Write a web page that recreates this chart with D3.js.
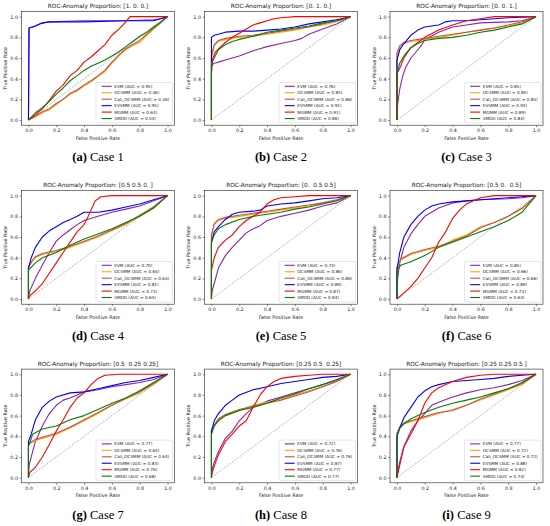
<!DOCTYPE html>
<html>
<head>
<meta charset="utf-8">
<script src="https://cdn.jsdelivr.net/npm/d3@7"></script>
<style>
  body { margin: 0; background: #fff; }
  svg { display: block; }
</style>
</head>
<body>
<svg id="chart" width="550" height="526"></svg>
<script>
// methods, in legend / draw order
const methods = ["EVM", "OCSMM", "Cali_OCSMM", "EVSMM", "MGMM", "SMDD"];
const titles = [
  "ROC-Anomaly Proportion: [1. 0. 0.]",
  "ROC-Anomaly Proportion: [0. 1. 0.]",
  "ROC-Anomaly Proportion: [0. 0. 1.]",
  "ROC-Anomaly Proportion: [0.5 0.5 0. ]",
  "ROC-Anomaly Proportion: [0.  0.5 0.5]",
  "ROC-Anomaly Proportion: [0.5 0.  0.5]",
  "ROC-Anomaly Proportion: [0.5  0.25 0.25]",
  "ROC-Anomaly Proportion: [0.25 0.5  0.25]",
  "ROC-Anomaly Proportion: [0.25 0.25 0.5 ]"
];
const captionTags = ["(a)", "(b)", "(c)", "(d)", "(e)", "(f)", "(g)", "(h)", "(i)"];
const captionText = ["Case 1", "Case 2", "Case 3", "Case 4", "Case 5", "Case 6", "Case 7", "Case 8", "Case 9"];
const aucs = [
  [0.95, 0.46, 0.46, 0.95, 0.64, 0.54],
  [0.76, 0.85, 0.86, 0.91, 0.91, 0.86],
  [0.85, 0.85, 0.85, 0.93, 0.89, 0.84],
  [0.70, 0.64, 0.64, 0.81, 0.73, 0.65],
  [0.73, 0.86, 0.86, 0.89, 0.87, 0.84],
  [0.85, 0.66, 0.66, 0.89, 0.73, 0.64],
  [0.77, 0.64, 0.64, 0.83, 0.76, 0.68],
  [0.72, 0.76, 0.76, 0.87, 0.77, 0.77],
  [0.77, 0.72, 0.72, 0.88, 0.82, 0.74]
];
const ticks = [0, 0.2, 0.4, 0.6, 0.8, 1.0];

// ROC points [fpr, tpr] per case, one list per method
const case1 = [
  [[0,0],[0.003,0.89],[0.03,0.90],[0.08,0.93],[0.15,0.95],[0.4,0.96],[0.7,0.96],[0.9,0.97],[0.95,0.98],[1,1]],
  [[0,0],[0.05,0.03],[0.1,0.07],[0.15,0.1],[0.2,0.15],[0.25,0.2],[0.3,0.25],[0.35,0.28],[0.4,0.33],[0.45,0.37],[0.5,0.42],[0.55,0.47],[0.6,0.55],[0.65,0.62],[0.7,0.68],[0.75,0.72],[0.8,0.75],[0.85,0.82],[0.9,0.88],[0.95,0.94],[1,1]],
  [[0,0],[0.05,0.04],[0.1,0.08],[0.15,0.11],[0.2,0.16],[0.25,0.2],[0.3,0.26],[0.35,0.29],[0.4,0.34],[0.45,0.38],[0.5,0.43],[0.55,0.48],[0.6,0.56],[0.65,0.63],[0.7,0.69],[0.75,0.73],[0.8,0.77],[0.85,0.83],[0.9,0.89],[0.95,0.94],[1,1]],
  [[0,0],[0.005,0.89],[0.05,0.91],[0.1,0.94],[0.15,0.95],[0.4,0.95],[0.7,0.96],[0.9,0.96],[0.95,0.98],[1,1]],
  [[0,0],[0.05,0.05],[0.1,0.11],[0.15,0.19],[0.2,0.28],[0.25,0.34],[0.3,0.43],[0.35,0.48],[0.4,0.56],[0.45,0.61],[0.5,0.67],[0.55,0.73],[0.6,0.82],[0.65,0.88],[0.7,0.95],[0.73,1],[1,1]],
  [[0,0],[0.05,0.07],[0.1,0.12],[0.15,0.18],[0.2,0.25],[0.25,0.31],[0.3,0.38],[0.35,0.43],[0.4,0.48],[0.45,0.52],[0.5,0.55],[0.55,0.58],[0.6,0.62],[0.65,0.66],[0.7,0.71],[0.75,0.76],[0.8,0.81],[0.85,0.85],[0.9,0.9],[0.95,0.95],[1,1]]
];
const case2 = [
  [[0,0],[0,0.53],[0.02,0.55],[0.05,0.56],[0.1,0.58],[0.2,0.62],[0.3,0.67],[0.4,0.71],[0.5,0.74],[0.6,0.77],[0.65,0.79],[0.7,0.83],[0.8,0.88],[0.9,0.93],[1,1]],
  [[0,0],[0,0.6],[0.02,0.72],[0.05,0.76],[0.1,0.78],[0.2,0.8],[0.3,0.81],[0.4,0.83],[0.5,0.85],[0.6,0.87],[0.7,0.9],[0.8,0.92],[0.9,0.95],[1,1]],
  [[0,0],[0,0.62],[0.02,0.73],[0.05,0.77],[0.1,0.79],[0.2,0.81],[0.3,0.82],[0.4,0.84],[0.5,0.86],[0.6,0.88],[0.7,0.9],[0.8,0.93],[0.9,0.96],[1,1]],
  [[0,0],[0,0.8],[0.02,0.82],[0.05,0.83],[0.1,0.85],[0.2,0.86],[0.3,0.86],[0.4,0.87],[0.5,0.88],[0.6,0.9],[0.7,0.93],[0.8,0.95],[0.9,0.97],[1,1]],
  [[0,0],[0,0.45],[0.01,0.6],[0.03,0.66],[0.06,0.7],[0.1,0.75],[0.15,0.8],[0.2,0.84],[0.25,0.88],[0.3,0.92],[0.35,0.94],[0.4,0.96],[0.45,0.98],[0.5,0.99],[0.6,1],[1,1]],
  [[0,0],[0,0.55],[0.02,0.6],[0.05,0.68],[0.1,0.73],[0.15,0.76],[0.2,0.78],[0.3,0.81],[0.4,0.85],[0.5,0.87],[0.6,0.89],[0.7,0.91],[0.8,0.94],[0.9,0.96],[1,1]]
];
const case3 = [
  [[0,0],[0.005,0.15],[0.02,0.3],[0.04,0.42],[0.06,0.5],[0.1,0.6],[0.15,0.68],[0.18,0.73],[0.2,0.78],[0.3,0.85],[0.4,0.9],[0.5,0.92],[0.6,0.94],[0.8,0.95],[0.9,0.96],[1,1]],
  [[0,0],[0,0.62],[0.02,0.7],[0.05,0.74],[0.1,0.76],[0.2,0.78],[0.3,0.8],[0.4,0.82],[0.5,0.85],[0.6,0.87],[0.7,0.89],[0.8,0.91],[0.9,0.94],[1,1]],
  [[0,0],[0,0.65],[0.02,0.72],[0.05,0.75],[0.1,0.77],[0.2,0.79],[0.3,0.81],[0.4,0.83],[0.5,0.85],[0.6,0.87],[0.7,0.89],[0.8,0.92],[0.9,0.95],[1,1]],
  [[0,0],[0,0.58],[0.02,0.68],[0.05,0.74],[0.1,0.82],[0.15,0.87],[0.2,0.9],[0.3,0.92],[0.35,0.95],[0.4,0.96],[0.5,0.96],[0.6,0.97],[0.7,0.98],[0.8,0.99],[1,1]],
  [[0,0],[0,0.45],[0.02,0.5],[0.05,0.6],[0.1,0.7],[0.15,0.75],[0.2,0.8],[0.3,0.87],[0.4,0.92],[0.5,0.96],[0.6,0.98],[0.7,1],[1,1]],
  [[0,0],[0,0.45],[0.02,0.55],[0.05,0.62],[0.1,0.7],[0.15,0.74],[0.2,0.77],[0.3,0.79],[0.4,0.8],[0.5,0.82],[0.6,0.85],[0.7,0.87],[0.8,0.9],[0.9,0.93],[1,1]]
];
const case4 = [
  [[0,0],[0.01,0.08],[0.05,0.2],[0.1,0.33],[0.15,0.45],[0.2,0.56],[0.25,0.62],[0.3,0.67],[0.35,0.72],[0.4,0.76],[0.5,0.8],[0.6,0.84],[0.7,0.87],[0.8,0.9],[0.9,0.95],[1,1]],
  [[0,0],[0,0.3],[0.03,0.37],[0.05,0.4],[0.1,0.43],[0.2,0.46],[0.3,0.5],[0.4,0.55],[0.5,0.6],[0.6,0.66],[0.7,0.72],[0.8,0.8],[0.9,0.88],[1,1]],
  [[0,0],[0,0.31],[0.03,0.38],[0.05,0.41],[0.1,0.44],[0.2,0.47],[0.3,0.51],[0.4,0.56],[0.5,0.61],[0.6,0.67],[0.7,0.73],[0.8,0.81],[0.9,0.89],[1,1]],
  [[0,0],[0,0.3],[0.02,0.4],[0.05,0.5],[0.1,0.6],[0.15,0.66],[0.2,0.7],[0.25,0.74],[0.3,0.77],[0.35,0.8],[0.4,0.84],[0.5,0.84],[0.6,0.86],[0.7,0.89],[0.8,0.92],[0.9,0.96],[1,1]],
  [[0,0],[0.01,0.03],[0.05,0.08],[0.1,0.15],[0.15,0.25],[0.2,0.35],[0.25,0.45],[0.3,0.55],[0.35,0.65],[0.4,0.72],[0.43,0.8],[0.45,0.86],[0.48,0.95],[0.52,0.99],[0.6,1],[1,1]],
  [[0,0],[0,0.28],[0.05,0.35],[0.1,0.4],[0.2,0.45],[0.3,0.52],[0.4,0.58],[0.5,0.63],[0.6,0.68],[0.7,0.74],[0.8,0.8],[0.9,0.88],[1,1]]
];
const case5 = [
  [[0,0],[0.005,0.08],[0.02,0.15],[0.05,0.3],[0.1,0.42],[0.15,0.5],[0.2,0.57],[0.25,0.64],[0.3,0.68],[0.35,0.71],[0.4,0.76],[0.5,0.8],[0.6,0.83],[0.7,0.86],[0.8,0.9],[0.9,0.93],[1,1]],
  [[0,0],[0,0.6],[0.02,0.72],[0.05,0.76],[0.1,0.78],[0.2,0.8],[0.3,0.82],[0.4,0.84],[0.5,0.86],[0.6,0.88],[0.7,0.9],[0.8,0.93],[0.9,0.95],[1,1]],
  [[0,0],[0,0.62],[0.02,0.73],[0.05,0.77],[0.1,0.79],[0.2,0.81],[0.3,0.83],[0.4,0.85],[0.5,0.87],[0.6,0.89],[0.7,0.91],[0.8,0.93],[0.9,0.96],[1,1]],
  [[0,0],[0,0.55],[0.02,0.65],[0.05,0.7],[0.1,0.77],[0.15,0.82],[0.2,0.84],[0.3,0.85],[0.35,0.86],[0.4,0.9],[0.5,0.92],[0.6,0.93],[0.7,0.95],[0.8,0.97],[0.9,0.98],[1,1]],
  [[0,0],[0,0.28],[0.02,0.4],[0.05,0.5],[0.1,0.57],[0.15,0.62],[0.2,0.7],[0.25,0.76],[0.3,0.8],[0.35,0.84],[0.4,0.92],[0.45,0.96],[0.5,0.98],[0.6,0.99],[0.7,1],[1,1]],
  [[0,0],[0,0.55],[0.02,0.62],[0.05,0.68],[0.1,0.72],[0.2,0.77],[0.3,0.8],[0.4,0.82],[0.5,0.84],[0.6,0.87],[0.7,0.89],[0.8,0.92],[0.9,0.95],[1,1]]
];
const case6 = [
  [[0,0],[0.005,0.2],[0.02,0.35],[0.05,0.5],[0.1,0.63],[0.15,0.72],[0.2,0.8],[0.3,0.88],[0.4,0.93],[0.5,0.95],[0.6,0.96],[0.8,0.97],[0.9,0.98],[1,1]],
  [[0,0],[0,0.3],[0.03,0.38],[0.1,0.43],[0.2,0.47],[0.3,0.5],[0.4,0.57],[0.5,0.62],[0.6,0.7],[0.7,0.74],[0.8,0.8],[0.9,0.87],[1,1]],
  [[0,0],[0,0.31],[0.03,0.39],[0.1,0.44],[0.2,0.48],[0.3,0.51],[0.4,0.56],[0.5,0.61],[0.6,0.69],[0.7,0.74],[0.8,0.8],[0.9,0.88],[1,1]],
  [[0,0],[0,0.28],[0.02,0.45],[0.05,0.6],[0.1,0.72],[0.15,0.8],[0.2,0.86],[0.25,0.9],[0.3,0.92],[0.4,0.94],[0.5,0.95],[0.6,0.96],[0.7,0.97],[0.8,0.98],[0.9,0.99],[1,1]],
  [[0,0],[0.05,0.06],[0.1,0.12],[0.15,0.2],[0.2,0.3],[0.25,0.4],[0.3,0.55],[0.35,0.65],[0.4,0.78],[0.45,0.86],[0.5,0.92],[0.55,0.95],[0.6,0.98],[0.7,1],[1,1]],
  [[0,0],[0,0.28],[0.03,0.33],[0.1,0.36],[0.2,0.42],[0.3,0.5],[0.4,0.55],[0.5,0.6],[0.6,0.65],[0.7,0.7],[0.8,0.76],[0.9,0.84],[1,1]]
];
const case7 = [
  [[0,0],[0.005,0.12],[0.02,0.2],[0.05,0.35],[0.1,0.5],[0.15,0.62],[0.2,0.7],[0.25,0.75],[0.3,0.77],[0.35,0.8],[0.4,0.83],[0.5,0.85],[0.6,0.88],[0.7,0.9],[0.8,0.92],[0.9,0.95],[1,1]],
  [[0,0],[0,0.32],[0.05,0.36],[0.1,0.38],[0.2,0.42],[0.3,0.48],[0.4,0.55],[0.5,0.62],[0.6,0.7],[0.7,0.76],[0.8,0.82],[0.9,0.9],[1,1]],
  [[0,0],[0,0.33],[0.05,0.37],[0.1,0.39],[0.2,0.43],[0.3,0.49],[0.4,0.56],[0.5,0.63],[0.6,0.7],[0.7,0.77],[0.8,0.83],[0.9,0.91],[1,1]],
  [[0,0],[0,0.35],[0.02,0.42],[0.05,0.56],[0.1,0.68],[0.15,0.74],[0.2,0.78],[0.3,0.82],[0.4,0.83],[0.5,0.86],[0.6,0.89],[0.7,0.92],[0.8,0.94],[0.9,0.97],[1,1]],
  [[0,0],[0.01,0.05],[0.05,0.1],[0.1,0.2],[0.15,0.32],[0.2,0.45],[0.25,0.56],[0.3,0.68],[0.35,0.77],[0.4,0.82],[0.45,0.9],[0.5,0.96],[0.55,0.99],[0.65,1],[1,1]],
  [[0,0],[0,0.3],[0.03,0.42],[0.1,0.47],[0.2,0.5],[0.3,0.56],[0.4,0.6],[0.5,0.66],[0.6,0.72],[0.7,0.77],[0.8,0.84],[0.9,0.92],[1,1]]
];
const case8 = [
  [[0,0],[0.005,0.08],[0.02,0.15],[0.05,0.25],[0.1,0.38],[0.15,0.45],[0.2,0.55],[0.25,0.62],[0.3,0.68],[0.4,0.74],[0.5,0.78],[0.6,0.82],[0.7,0.86],[0.8,0.9],[0.9,0.94],[1,1]],
  [[0,0],[0,0.45],[0.02,0.5],[0.05,0.56],[0.1,0.6],[0.2,0.65],[0.3,0.7],[0.4,0.73],[0.5,0.76],[0.6,0.8],[0.7,0.84],[0.8,0.88],[0.9,0.93],[1,1]],
  [[0,0],[0,0.46],[0.02,0.51],[0.05,0.57],[0.1,0.61],[0.2,0.66],[0.3,0.69],[0.4,0.72],[0.5,0.75],[0.6,0.79],[0.7,0.83],[0.8,0.88],[0.9,0.93],[1,1]],
  [[0,0],[0,0.45],[0.02,0.55],[0.05,0.62],[0.1,0.7],[0.15,0.75],[0.2,0.8],[0.3,0.85],[0.4,0.88],[0.5,0.91],[0.6,0.93],[0.7,0.95],[0.8,0.97],[0.9,0.98],[1,1]],
  [[0,0],[0.005,0.05],[0.03,0.15],[0.05,0.22],[0.1,0.35],[0.15,0.42],[0.2,0.5],[0.25,0.55],[0.3,0.68],[0.35,0.8],[0.4,0.88],[0.45,0.93],[0.5,0.96],[0.6,0.98],[0.7,0.99],[0.8,1],[1,1]],
  [[0,0],[0,0.42],[0.02,0.5],[0.05,0.55],[0.1,0.6],[0.2,0.65],[0.3,0.68],[0.4,0.72],[0.5,0.77],[0.6,0.81],[0.7,0.86],[0.8,0.9],[0.9,0.95],[1,1]]
];
const case9 = [
  [[0,0],[0.005,0.05],[0.02,0.15],[0.05,0.3],[0.1,0.42],[0.15,0.55],[0.2,0.62],[0.25,0.7],[0.3,0.73],[0.4,0.78],[0.5,0.82],[0.6,0.85],[0.7,0.87],[0.8,0.9],[0.9,0.94],[1,1]],
  [[0,0],[0,0.42],[0.02,0.48],[0.05,0.52],[0.1,0.54],[0.2,0.58],[0.3,0.62],[0.4,0.66],[0.5,0.7],[0.6,0.75],[0.7,0.8],[0.8,0.85],[0.9,0.9],[1,1]],
  [[0,0],[0,0.43],[0.02,0.49],[0.05,0.53],[0.1,0.55],[0.2,0.59],[0.3,0.63],[0.4,0.65],[0.5,0.7],[0.6,0.76],[0.7,0.81],[0.8,0.86],[0.9,0.91],[1,1]],
  [[0,0],[0,0.4],[0.02,0.48],[0.05,0.58],[0.1,0.68],[0.15,0.78],[0.2,0.84],[0.25,0.88],[0.3,0.9],[0.4,0.93],[0.5,0.94],[0.6,0.95],[0.7,0.96],[0.8,0.98],[0.9,0.99],[1,1]],
  [[0,0],[0.005,0.03],[0.02,0.12],[0.05,0.3],[0.1,0.45],[0.15,0.55],[0.2,0.72],[0.25,0.82],[0.3,0.87],[0.4,0.93],[0.5,0.97],[0.6,0.99],[0.7,1],[1,1]],
  [[0,0],[0,0.4],[0.02,0.48],[0.05,0.52],[0.1,0.57],[0.2,0.63],[0.3,0.68],[0.4,0.72],[0.5,0.75],[0.6,0.78],[0.7,0.82],[0.8,0.86],[0.9,0.92],[1,1]]
];
const cases = [case1, case2, case3, case4, case5, case6, case7, case8, case9];

const colors = ["#8e24aa", "#ffa500", "#c0504d", "#0000ff", "#ff0000", "#008000"];

const colX = [0, 183, 368.5];
const rowY = [0, 179, 357.6];

const svg = d3.select("#chart");

cases.forEach(function(curves, i) {
    const ox = colX[i % 3], oy = rowY[Math.floor(i / 3)];
    const x = d3.scaleLinear().domain([-0.05, 1.05]).range([21.5, 174.5]);
    const y = d3.scaleLinear().domain([-0.05, 1.05]).range([125.2, 11.5]);

    const g = svg.append("g").attr("transform", "translate(" + ox + "," + oy + ")");

    // axes
    const xAxis = g.append("g")
        .attr("transform", "translate(0," + y.range()[0] + ")")
        .call(d3.axisBottom(x).tickValues(ticks).tickSize(2).tickPadding(1.5).tickFormat(d3.format(".1f")));
    const yAxis = g.append("g")
        .attr("transform", "translate(" + x.range()[0] + ",0)")
        .call(d3.axisLeft(y).tickValues(ticks).tickSize(2).tickPadding(1.5).tickFormat(d3.format(".1f")));
    [xAxis, yAxis].forEach(function(a) {
        a.select(".domain").remove();
        a.selectAll("line").attr("stroke", "#222").attr("stroke-width", 0.5);
        a.selectAll("text").attr("font-family", "DejaVu Sans").attr("font-size", 4.8).attr("fill", "#222");
    });

    // chance line
    g.append("line")
        .attr("x1", x(0)).attr("y1", y(0)).attr("x2", x(1)).attr("y2", y(1))
        .attr("stroke", "#888").attr("stroke-width", 0.6).attr("stroke-dasharray", "2,1.2");

    const line = d3.line().x(d => x(d[0])).y(d => y(d[1]));
    g.selectAll("path.roc")
        .data(curves)
        .enter()
        .append("path")
        .attr("class", "roc")
        .attr("d", line)
        .attr("fill", "none")
        .attr("stroke", (d, k) => colors[k])
        .attr("stroke-width", 1.1)
        .attr("stroke-linejoin", "round");

    // frame
    g.append("rect")
        .attr("x", x.range()[0]).attr("y", y.range()[1])
        .attr("width", x.range()[1] - x.range()[0])
        .attr("height", y.range()[0] - y.range()[1])
        .attr("fill", "none").attr("stroke", "#222").attr("stroke-width", 0.6);

    // labels
    g.append("text")
        .attr("x", (x.range()[0] + x.range()[1]) / 2).attr("y", y.range()[1] - 3.5)
        .attr("text-anchor", "middle").attr("font-family", "DejaVu Sans").attr("font-size", 5.8)
        .attr("fill", "#222").attr("xml:space", "preserve").style("white-space", "pre")
        .text(titles[i]);
    g.append("text")
        .attr("x", (x.range()[0] + x.range()[1]) / 2).attr("y", y.range()[0] + 14.5)
        .attr("text-anchor", "middle").attr("font-family", "DejaVu Sans").attr("font-size", 4.8)
        .attr("fill", "#222").text("False Positive Rate");
    g.append("text")
        .attr("transform", "translate(7," + (y.range()[0] + y.range()[1]) / 2 + ") rotate(-90)")
        .attr("text-anchor", "middle").attr("font-family", "DejaVu Sans").attr("font-size", 4.8)
        .attr("fill", "#222").text("True Positive Rate");

    // legend
    const lg = g.append("g").attr("transform", "translate(96," + (y.range()[0] - 42.7) + ")");
    lg.append("rect")
        .attr("width", 76.5).attr("height", 40.5).attr("rx", 1.5)
        .attr("fill", "#fff").attr("fill-opacity", 0.85)
        .attr("stroke", "#ccc").attr("stroke-width", 0.5);
    methods.forEach(function(m, k) {
        const ly = 3.8 + k * 6.45;
        lg.append("line")
            .attr("x1", 5.7).attr("x2", 15.7).attr("y1", ly).attr("y2", ly)
            .attr("stroke", colors[k]).attr("stroke-width", 1.1);
        lg.append("text")
            .attr("x", 18.3).attr("y", ly + 1.5)
            .attr("font-family", "DejaVu Sans").attr("font-size", 4.2).attr("fill", "#222")
            .text(m + " (AUC = " + aucs[i][k].toFixed(2) + ")");
    });

    // caption
    const cap = g.append("text")
        .attr("x", (x.range()[0] + x.range()[1]) / 2).attr("y", 161)
        .attr("text-anchor", "middle").attr("font-family", "Liberation Serif").attr("font-size", 12.5)
        .attr("fill", "#000");
    cap.append("tspan").attr("font-weight", "bold").text(captionTags[i]);
    cap.append("tspan").text(" " + captionText[i]);
});
</script>
</body>
</html>
